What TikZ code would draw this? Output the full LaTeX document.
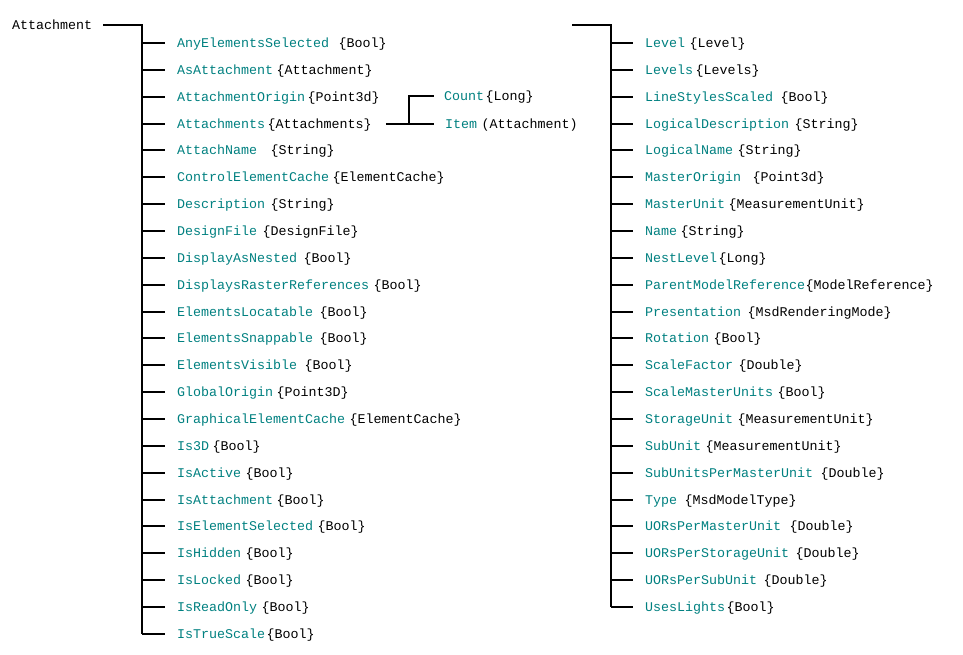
\documentclass[tikz,border=0pt]{standalone}
\usepackage{fontspec}
\setmonofont{Liberation Mono}
\definecolor{tealname}{RGB}{0,128,128}
\begin{document}
\begin{tikzpicture}[x=1pt,y=-1pt,
  font=\ttfamily\fontsize{13.33}{16}\selectfont,
  base/.style={anchor=west, inner sep=0pt, text height=9pt, text depth=0pt},
  nm/.style={base, text=tealname},
  ty/.style={base, text=black},
  ln/.style={line width=2pt, line join=miter}]
\useasboundingbox (0,0) rectangle (963,655);
% root
\node[ty] (att) at (12,25) {Attachment};
\coordinate (tl) at (142,25);
\foreach \n/\t/\tx [count=\i] in {
 AnyElementsSelected/Bool/341,
 AsAttachment/Attachment/279,
 AttachmentOrigin/Point3d/310,
 Attachments/Attachments/270,
 AttachName/String/273,
 ControlElementCache/ElementCache/335,
 Description/String/273,
 DesignFile/DesignFile/265,
 DisplayAsNested/Bool/306,
 DisplaysRasterReferences/Bool/376,
 ElementsLocatable/Bool/322,
 ElementsSnappable/Bool/322,
 ElementsVisible/Bool/307,
 GlobalOrigin/Point3D/279,
 GraphicalElementCache/ElementCache/352,
 Is3D/Bool/215,
 IsActive/Bool/248,
 IsAttachment/Bool/279,
 IsElementSelected/Bool/320,
 IsHidden/Bool/248,
 IsLocked/Bool/248,
 IsReadOnly/Bool/264,
 IsTrueScale/Bool/269}{
  \node[nm] (l\i) at (177,{43+(\i-1)*26.86}) {\n};
  \node[ty] (lt\i) at ({\tx-2.5},{43+(\i-1)*26.86}) {\{\t\}};
  \draw[ln] (tl |- l\i.west) -- ([xshift=-12pt]l\i.west);
}
\draw[ln] ([xshift=11pt]att.east) -- (tl) -- (tl |- l23.west);
% Attachments sub-branch
\node[nm] (cnt) at (444,{43+2*26.86-1}) {Count};
\node[ty] (cntt) at (485.5,{43+2*26.86-1}) {\{Long\}};
\node[nm] (itm) at (445,{43+3*26.86}) {Item};
\node[ty] (itmt) at (481.5,{43+3*26.86}) {(Attachment)};
\coordinate (cj) at (409,0);
\draw[ln] ([xshift=14pt]lt4.east) -- ([xshift=-11pt]itm.west);
\draw[ln] (cj |- itm.west) -- (cj |- cnt.west) -- ([xshift=-10pt]cnt.west);
% right column
\coordinate (rs) at (572,25);
\coordinate (tr) at (611,25);
\foreach \n/\t/\tx [count=\i] in {
 Level/Level/692,
 Levels/Levels/698,
 LineStylesScaled/Bool/783,
 LogicalDescription/String/797,
 LogicalName/String/740,
 MasterOrigin/Point3d/755,
 MasterUnit/MeasurementUnit/731,
 Name/String/683,
 NestLevel/Long/721,
 ParentModelReference/ModelReference/808,
 Presentation/MsdRenderingMode/750,
 Rotation/Bool/716,
 ScaleFactor/Double/741,
 ScaleMasterUnits/Bool/780,
 StorageUnit/MeasurementUnit/740,
 SubUnit/MeasurementUnit/708,
 SubUnitsPerMasterUnit/Double/823,
 Type/MsdModelType/687,
 UORsPerMasterUnit/Double/792,
 UORsPerStorageUnit/Double/798,
 UORsPerSubUnit/Double/766,
 UsesLights/Bool/729}{
  \node[nm] (r\i) at (645,{43+(\i-1)*26.86}) {\n};
  \node[ty] (rt\i) at ({\tx-2.5},{43+(\i-1)*26.86}) {\{\t\}};
  \draw[ln] (tr |- r\i.west) -- ([xshift=-12pt]r\i.west);
}
\draw[ln] (rs) -- (tr) -- (tr |- r22.west);
\end{tikzpicture}
\end{document}
